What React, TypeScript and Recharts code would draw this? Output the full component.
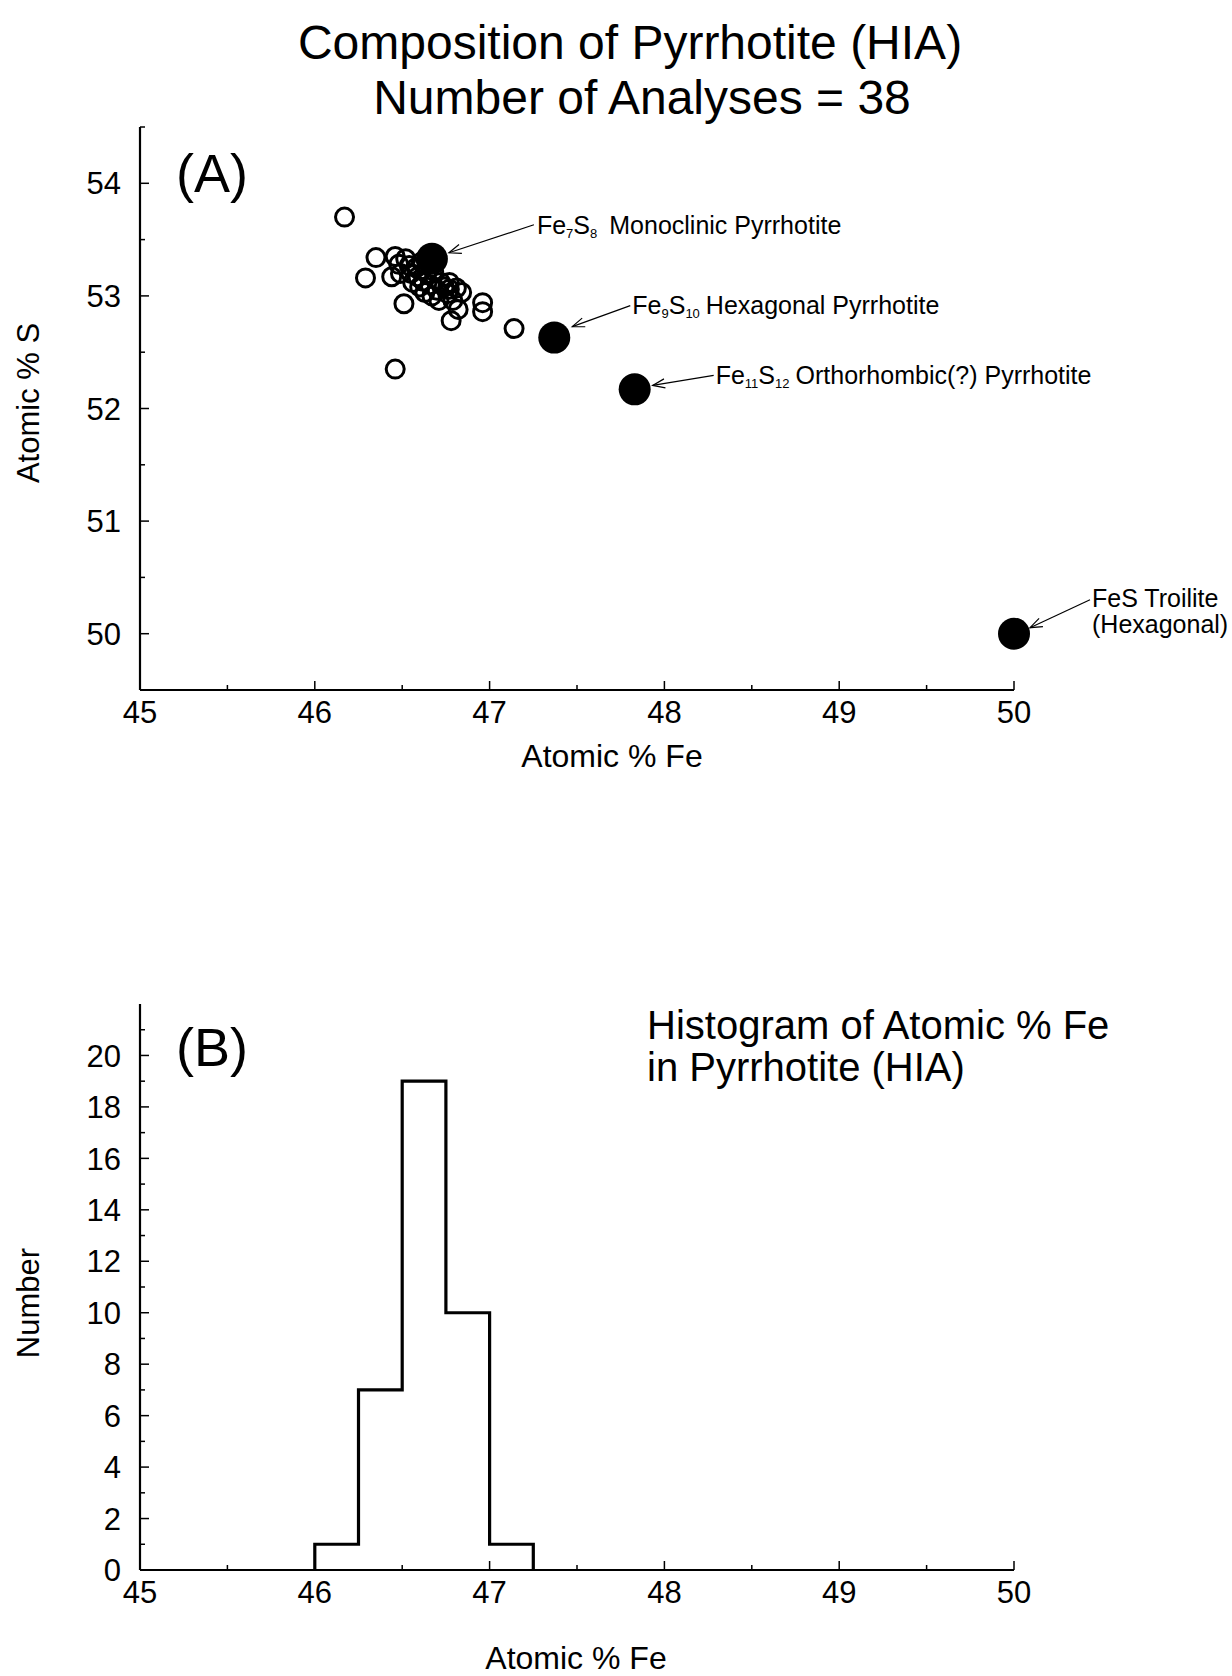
import React from 'react';
import { ScatterChart, Scatter, XAxis, YAxis, ComposedChart, Line, Customized } from 'recharts';

const FONT = '"Liberation Sans", Arial, Helvetica, sans-serif';

// ---- Panel A: individual microprobe analyses (atomic % Fe, atomic % S)
const analysisFe = [46.17, 46.35, 46.29, 46.46, 46.44, 46.46, 46.48, 46.49, 46.51, 46.52, 46.54, 46.55, 46.56, 46.58, 46.59, 46.60, 46.61, 46.62, 46.63, 46.64, 46.66, 46.67, 46.68, 46.70, 46.71, 46.72, 46.74, 46.96, 46.96, 46.78, 46.82, 46.81, 46.77, 46.76, 46.79, 46.84, 46.77, 47.14];
const analysisS = [53.70, 53.34, 53.16, 53.35, 53.17, 52.35, 53.28, 53.20, 52.93, 53.33, 53.27, 53.20, 53.12, 53.25, 53.17, 53.08, 53.30, 53.13, 53.03, 53.20, 53.10, 53.00, 53.22, 53.05, 52.96, 53.12, 53.08, 52.94, 52.86, 52.78, 52.88, 53.07, 53.12, 53.02, 52.96, 53.03, 53.06, 52.71];

// ---- Panel A: ideal pyrrhotite / troilite compositions
const phaseNames = ['Fe7S8', 'Fe9S10', 'Fe11S12', 'FeS'];
const phaseFe = [46.67, 47.37, 47.83, 50.0];
const phaseS = [53.33, 52.63, 52.17, 50.0];

// ---- Panel B: histogram of atomic % Fe
const binStarts = [46.0, 46.25, 46.5, 46.75, 47.0];
const binCounts = [1, 7, 19, 10, 1];
const binWidth = 0.25;

// ---- ticks
const feTicks = [45, 45.5, 46, 46.5, 47, 47.5, 48, 48.5, 49, 49.5, 50];
const sTicks = [50, 50.5, 51, 51.5, 52, 52.5, 53, 53.5, 54, 54.5];
const countTicks = [0, 1, 2, 3, 4, 5, 6, 7, 8, 9, 10, 11, 12, 13, 14, 15, 16, 17, 18, 19, 20, 21];

const analyses = analysisFe.map((fe, i) => ({ fe, s: analysisS[i] }));
const phases = phaseNames.map((name, i) => ({ name, fe: phaseFe[i], s: phaseS[i] }));
const histData = [
  { fe: binStarts[0], n: 0 },
  ...binStarts.map((b, i) => ({ fe: b, n: binCounts[i] })),
  { fe: binStarts[binStarts.length - 1] + binWidth, n: 0 },
];

// label layout (pixel offsets from the marker centre)
const phaseLabelLayout: any = {
  Fe7S8: { from: [102, -34], to: [17, -6], text: [105, -25] },
  Fe9S10: { from: [76, -32], to: [18, -11], text: [78, -24] },
  Fe11S12: { from: [79, -14], to: [18, -4], text: [81, -5] },
  FeS: { from: [76, -34], to: [16, -6], text: [78, -27] },
};
const phaseLabelParts: any = {
  Fe7S8: [[{ t: 'Fe' }, { t: '7', sub: true }, { t: 'S' }, { t: '8', sub: true }, { t: 'Monoclinic Pyrrhotite', dx: 12 }]],
  Fe9S10: [[{ t: 'Fe' }, { t: '9', sub: true }, { t: 'S' }, { t: '10', sub: true }, { t: 'Hexagonal Pyrrhotite', dx: 6 }]],
  Fe11S12: [[{ t: 'Fe' }, { t: '11', sub: true }, { t: 'S' }, { t: '12', sub: true }, { t: 'Orthorhombic(?) Pyrrhotite', dx: 6 }]],
  FeS: [[{ t: 'FeS Troilite' }], [{ t: '(Hexagonal)' }]],
};

const isInt = (v: number) => Math.abs(v - Math.round(v)) < 1e-6;

const XTick = (props: any) => {
  const { x, y, payload } = props;
  const v = payload.value;
  const major = isInt(v);
  return (
    <g>
      <line x1={x} x2={x} y1={y} y2={y - (major ? 9 : 5)} stroke="#000" strokeWidth={1.5} />
      {major && (
        <text x={x} y={y + 33} textAnchor="middle" fontSize={31} fontFamily={FONT} fill="#000">
          {v}
        </text>
      )}
    </g>
  );
};

const makeYTick = (isMajor: (v: number) => boolean, showLabel: (v: number) => boolean) => (props: any) => {
  const { x, y, payload } = props;
  const v = payload.value;
  const major = isMajor(v);
  return (
    <g>
      <line x1={x} x2={x + (major ? 9 : 5)} y1={y} y2={y} stroke="#000" strokeWidth={1.5} />
      {showLabel(v) && (
        <text x={x - 19} y={y} dy="0.36em" textAnchor="end" fontSize={31} fontFamily={FONT} fill="#000">
          {v}
        </text>
      )}
    </g>
  );
};
const STick = makeYTick(isInt, isInt);
const CountTick = makeYTick((v) => v % 2 === 0, (v) => v % 2 === 0 && v <= 20);

const OpenCircle = (props: any) => {
  const { cx, cy } = props;
  return <circle cx={cx} cy={cy} r={9} fill="none" stroke="#000" strokeWidth={3} />;
};

const renderParts = (parts: any[]) => {
  let shifted = false;
  return parts.map((p: any, i: number) => {
    let dy = 0;
    if (p.sub && !shifted) { dy = 4; shifted = true; }
    else if (!p.sub && shifted) { dy = -4; shifted = false; }
    return (
      <tspan key={i} fontSize={p.sub ? 13 : 25} dy={dy} dx={p.dx || 0}>
        {p.t}
      </tspan>
    );
  });
};

const PhaseMarker = (props: any) => {
  const { cx, cy, payload } = props;
  const lay = phaseLabelLayout[payload.name];
  const lines = phaseLabelParts[payload.name];
  const x1 = cx + lay.from[0];
  const y1 = cy + lay.from[1];
  const x2 = cx + lay.to[0];
  const y2 = cy + lay.to[1];
  const ang = Math.atan2(y2 - y1, x2 - x1);
  const L = 13;
  const a = 0.36;
  const hx1 = x2 - L * Math.cos(ang - a);
  const hy1 = y2 - L * Math.sin(ang - a);
  const hx2 = x2 - L * Math.cos(ang + a);
  const hy2 = y2 - L * Math.sin(ang + a);
  return (
    <g>
      <circle cx={cx} cy={cy} r={16} fill="#000" />
      <line x1={x1} y1={y1} x2={x2} y2={y2} stroke="#000" strokeWidth={1.2} />
      <polyline points={`${hx1},${hy1} ${x2},${y2} ${hx2},${hy2}`} fill="none" stroke="#000" strokeWidth={1.2} />
      {lines.map((parts: any[], li: number) => (
        <text key={li} x={cx + lay.text[0]} y={cy + lay.text[1] + li * 26} fontFamily={FONT} fontSize={25} fill="#000">
          {renderParts(parts)}
        </text>
      ))}
    </g>
  );
};

const PanelATexts = () => (
  <g fontFamily={FONT} fill="#000">
    <text x={630} y={59} textAnchor="middle" fontSize={48}>Composition of Pyrrhotite (HIA)</text>
    <text x={642} y={114} textAnchor="middle" fontSize={48}>Number of Analyses = 38</text>
    <text x={176} y={192} fontSize={54}>(A)</text>
    <text x={28} y={403} textAnchor="middle" dy="0.36em" fontSize={31} transform="rotate(-90 28 403)">Atomic % S</text>
    <text x={612} y={767} textAnchor="middle" fontSize={32}>Atomic % Fe</text>
  </g>
);

const PanelBTexts = () => (
  <g fontFamily={FONT} fill="#000">
    <text x={176} y={126} fontSize={54}>(B)</text>
    <text x={647} y={99} fontSize={40}>Histogram of Atomic % Fe</text>
    <text x={647} y={141} fontSize={40}>in Pyrrhotite (HIA)</text>
    <text x={28} y={363} textAnchor="middle" dy="0.36em" fontSize={31} transform="rotate(-90 28 363)">Number</text>
    <text x={576} y={729} textAnchor="middle" fontSize={32}>Atomic % Fe</text>
  </g>
);

export default function App() {
  return (
    <div style={{ position: 'absolute', left: 0, top: 0, width: 1232, height: 1676, background: '#fff', overflow: 'hidden' }}>
      <div style={{ position: 'absolute', left: 0, top: 0 }}>
        <ScatterChart width={1232} height={800} margin={{ top: 127, right: 218, bottom: 70, left: 80 }}>
          <XAxis
            type="number"
            dataKey="fe"
            domain={[45, 50]}
            ticks={feTicks}
            interval={0}
            tick={<XTick />}
            tickSize={0}
            tickMargin={0}
            tickLine={false}
            axisLine={{ stroke: '#000', strokeWidth: 2.2 }}
            height={40}
          />
          <YAxis
            type="number"
            dataKey="s"
            domain={[49.5, 54.5]}
            ticks={sTicks}
            interval={0}
            tick={<STick />}
            tickSize={0}
            tickMargin={0}
            tickLine={false}
            axisLine={{ stroke: '#000', strokeWidth: 2.2 }}
            width={60}
          />
          <Scatter data={analyses} shape={OpenCircle} isAnimationActive={false} />
          <Scatter data={phases} shape={PhaseMarker} isAnimationActive={false} />
          <Customized component={PanelATexts} />
        </ScatterChart>
      </div>
      <div style={{ position: 'absolute', left: 0, top: 940 }}>
        <ComposedChart width={1232} height={736} data={histData} margin={{ top: 64, right: 218, bottom: 66, left: 80 }}>
          <XAxis
            type="number"
            dataKey="fe"
            domain={[45, 50]}
            ticks={feTicks}
            interval={0}
            tick={<XTick />}
            tickSize={0}
            tickMargin={0}
            tickLine={false}
            axisLine={{ stroke: '#000', strokeWidth: 2.2 }}
            height={40}
          />
          <YAxis
            type="number"
            domain={[0, 22]}
            ticks={countTicks}
            interval={0}
            tick={<CountTick />}
            tickSize={0}
            tickMargin={0}
            tickLine={false}
            axisLine={{ stroke: '#000', strokeWidth: 2.2 }}
            width={60}
          />
          <Line
            type="stepAfter"
            dataKey="n"
            stroke="#000"
            strokeWidth={3.2}
            dot={false}
            activeDot={false}
            isAnimationActive={false}
          />
          <Customized component={PanelBTexts} />
        </ComposedChart>
      </div>
    </div>
  );
}
